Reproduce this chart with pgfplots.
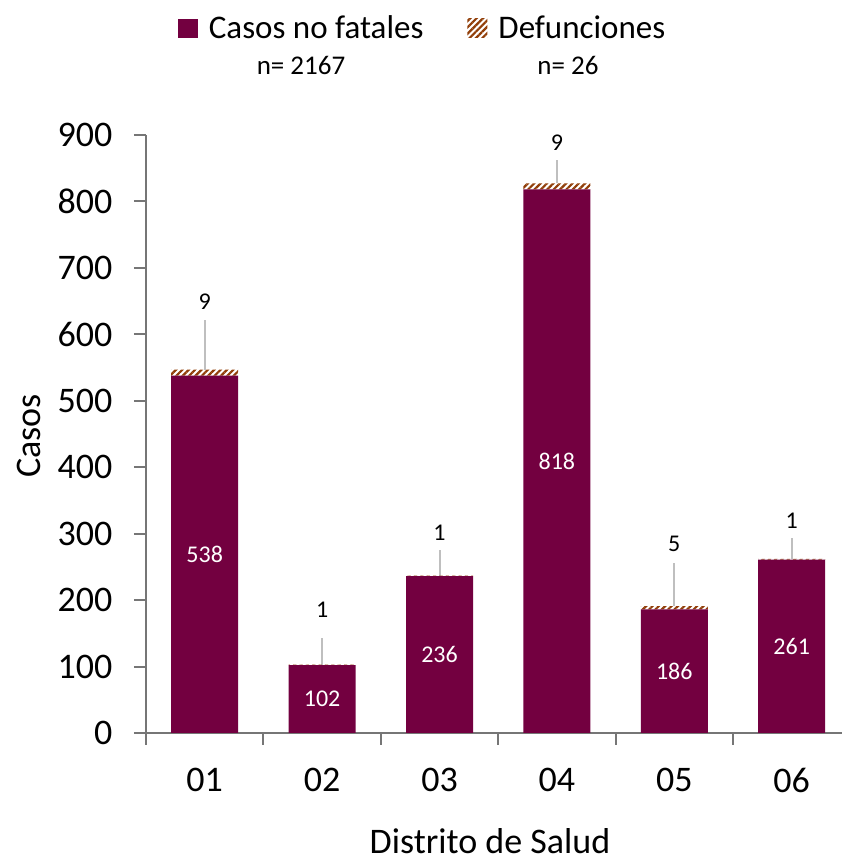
\documentclass[border=0pt]{standalone}
\usepackage{pgfplots}
\pgfplotsset{compat=1.18}
\usepackage{fontspec}
\setmainfont{Carlito}
\usetikzlibrary{patterns.meta}
\definecolor{barcol}{RGB}{115,0,64}
\definecolor{defcol}{RGB}{145,62,8}
\definecolor{axcol}{RGB}{118,118,118}
\definecolor{leadcol}{RGB}{191,191,191}
\tikzset{
  inlab/.style={font=\fontsize{24}{26}\selectfont, text=white},
  outlab/.style={font=\fontsize{24}{26}\selectfont, text=black},
  guia/.style={leadcol, line width=2pt},
}

\begin{document}
\begin{tikzpicture}[x=1pt,y=1pt]
\path[use as bounding box] (0,0) rectangle (841,864);
\begin{axis}[
  at={(146pt,131pt)}, anchor=south west,
  scale only axis, width=704.4pt, height=598pt,
  ybar stacked, bar width=67pt,
  xmin=-0.5, xmax=5.5, ymin=0, ymax=900,
  axis x line*=bottom, axis y line*=left,
  axis line style={axcol, line width=2pt, -},
  xtick={-0.5,0.5,...,5.5},
  x tick label as interval,
  xticklabels={01,02,03,04,05,06},
  ytick={0,100,...,900},
  major tick length=12pt, tick align=outside,
  tick style={axcol, line width=2pt},
  ticklabel style={font=\fontsize{36}{40}\selectfont},
  yticklabel style={xshift=-18pt},
  xticklabel style={yshift=-20pt},
  /pgf/number format/assume math mode=true,
  legend columns=2,
  legend style={at={(axis description cs:0.045,1.179)}, anchor=west,
    draw=none, fill=none, inner sep=0pt,
    font=\fontsize{33}{36}\selectfont,
    /tikz/every even column/.append style={column sep=42pt}},
  legend image code/.code={\path[#1] (0pt,-10pt) rectangle (20pt,9pt);},
]
\addplot[fill=barcol, draw=none] coordinates {(0,538) (1,102) (2,236) (3,818) (4,186) (5,261)};
\addplot[pattern={Lines[angle=45, distance=4.5pt, line width=2.2pt]}, pattern color=defcol, draw=none]
  coordinates {(0,9) (1,1) (2,1) (3,9) (4,5) (5,1)};
\legend{\hspace{9pt}Casos no fatales, \hspace{9pt}Defunciones}

% posiciones de las etiquetas dentro de las barras
\coordinate (c0) at (axis cs:0,269);
\coordinate (c1) at (axis cs:1,51);
\coordinate (c2) at (axis cs:2,118);
\coordinate (c3) at (axis cs:3,409);
\coordinate (c4) at (axis cs:4,93);
\coordinate (c5) at (axis cs:5,130.5);

% lineas guia y defunciones
\draw[guia] (axis cs:0,547) -- (axis cs:0,621);
\draw[guia] (axis cs:1,103) -- (axis cs:1,143);
\draw[guia] (axis cs:2,237) -- (axis cs:2,275);
\draw[guia] (axis cs:3,827) -- (axis cs:3,862);
\draw[guia] (axis cs:4,191) -- (axis cs:4,256);
\draw[guia] (axis cs:5,262) -- (axis cs:5,294);
\node[outlab] at (axis cs:0,649) {9};
\node[outlab] at (axis cs:1,185) {1};
\node[outlab] at (axis cs:2,302) {1};
\node[outlab] at (axis cs:3,889) {9};
\node[outlab] at (axis cs:4,284) {5};
\node[outlab] at (axis cs:5,320) {1};
\end{axis}

\node[inlab] at (c0) {538};
\node[inlab] at (c1) {102};
\node[inlab] at (c2) {236};
\node[inlab] at (c3) {818};
\node[inlab] at (c4) {186};
\node[inlab] at (c5) {261};

\node[font=\fontsize{27}{30}\selectfont] at (301,799) {n= 2167};
\node[font=\fontsize{27}{30}\selectfont] at (568,799) {n= 26};
\node[rotate=90, font=\fontsize{36}{40}\selectfont] at (29,428) {Casos};
\node[anchor=base, inner sep=0pt, font=\fontsize{36}{40}\selectfont] at (490,10) {Distrito de Salud};
\end{tikzpicture}
\end{document}
